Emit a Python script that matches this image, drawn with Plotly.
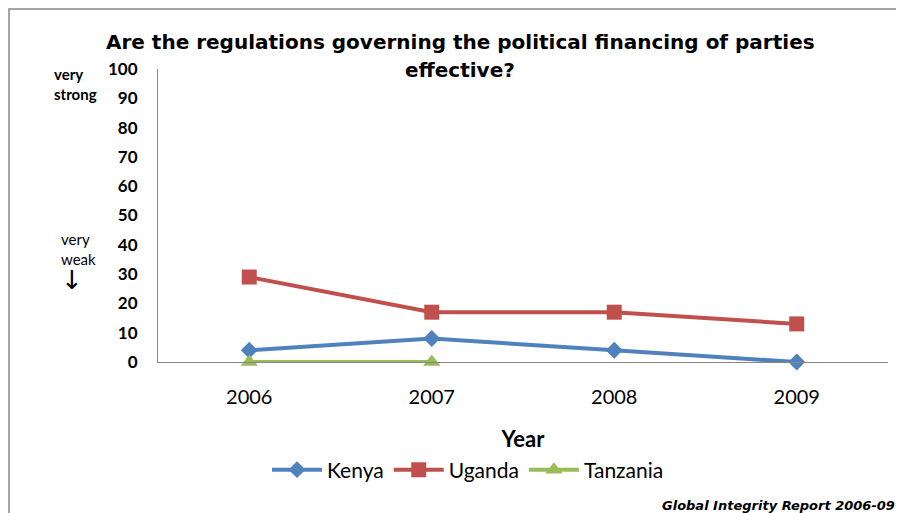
import plotly.graph_objects as go

years = ["2006", "2007", "2008", "2009"]
kenya = [4, 8, 4, 0]
uganda = [29, 17, 17, 13]
tanzania_years = ["2006", "2007"]
tanzania = [0, 0]
y_ticks = [0, 10, 20, 30, 40, 50, 60, 70, 80, 90, 100]

FONT = "Lato"
TFONT = "DejaVu Sans"
OFF = 8  # page body margin: figure is drawn 8px in from the window corner
W, H = 904, 513
# plot-area edges in window pixels
SL, SR, ST, SB = 158, 888, 69, 362
L, R, T, B = SL - OFF, SR - OFF, ST - OFF, SB - OFF
pw, ph = R - L, B - T

def px(x_screen):
    return (x_screen - OFF - L) / pw

def py(y_screen):
    return (B - (y_screen - OFF)) / ph

fig = go.Figure()
fig.add_trace(go.Scatter(x=years, y=kenya, name="Kenya", mode="lines+markers",
                         line=dict(color="#4F81BD", width=4),
                         marker=dict(symbol="diamond", size=13, color="#4F81BD"),
                         cliponaxis=False))
fig.add_trace(go.Scatter(x=years, y=uganda, name="Uganda", mode="lines+markers",
                         line=dict(color="#C0504D", width=4),
                         marker=dict(symbol="square", size=15, color="#C0504D"),
                         cliponaxis=False))
fig.add_trace(go.Scatter(x=tanzania_years, y=tanzania, name="Tanzania", mode="lines+markers",
                         line=dict(color="#9BBB59", width=4),
                         marker=dict(symbol="triangle-up", size=15, color="#9BBB59"),
                         cliponaxis=False))

fig.update_layout(
    width=W, height=H,
    margin=dict(l=L, r=W - R, t=T, b=H - B, pad=0, autoexpand=False),
    paper_bgcolor="white", plot_bgcolor="white",
    font=dict(family=FONT, color="black"),
    showlegend=True,
    legend=dict(orientation="h", x=px(468), xanchor="center", y=py(470), yanchor="middle",
                font=dict(size=21, family=FONT, color="black"),
                itemwidth=50, tracegroupgap=0, bgcolor="rgba(0,0,0,0)"),
    xaxis=dict(type="category", categoryorder="array", categoryarray=years,
               range=[-0.5, 3.5], showline=True, linecolor="#868686", linewidth=1,
               showgrid=False, zeroline=False, automargin=False,
               ticks="outside", ticklen=17, tickcolor="rgba(0,0,0,0)",
               tickfont=dict(size=20, family=FONT, color="black"),
               title=dict(text="<b>Year</b>", font=dict(size=22, family=FONT, color="black"), standoff=24)),
    yaxis=dict(range=[0, 100], tickvals=y_ticks, ticktext=[f"<b>{v}</b>" for v in y_ticks],
               showline=True, linecolor="#868686", linewidth=1,
               showgrid=False, zeroline=False, automargin=False,
               ticks="outside", ticklen=16, tickcolor="rgba(0,0,0,0)",
               tickfont=dict(size=17, family=FONT, color="black")),
)

# outer frame (chart-area border)
fig.add_shape(type="rect", xref="paper", yref="paper",
              x0=(1 - L) / pw, x1=(W + 20 - L) / pw, y0=(B - (H + 20)) / ph, y1=(B - 1) / ph,
              line=dict(color="#868686", width=1.5), fillcolor="rgba(0,0,0,0)", layer="below")

# title, two lines
fig.add_annotation(text="<b>Are the regulations governing the political financing of parties</b>",
                   xref="paper", yref="paper", x=px(460), y=py(42), xanchor="center", yanchor="middle",
                   showarrow=False, font=dict(size=20, family=TFONT, color="black"))
fig.add_annotation(text="<b>effective?</b>",
                   xref="paper", yref="paper", x=px(460), y=py(70), xanchor="center", yanchor="middle",
                   showarrow=False, font=dict(size=20, family=TFONT, color="black"))

fig.add_annotation(text="<b>very<br>strong</b>", xref="paper", yref="paper",
                   x=px(75), y=py(84), xanchor="center", yanchor="middle", showarrow=False, align="left",
                   font=dict(size=15, family=FONT, color="black"))
fig.add_annotation(text="very<br>weak", xref="paper", yref="paper",
                   x=px(78), y=py(249), xanchor="center", yanchor="middle", showarrow=False, align="left",
                   font=dict(size=15, family=FONT, color="black"))
fig.add_annotation(text="↓", xref="paper", yref="paper",
                   x=px(72), y=py(280), xanchor="center", yanchor="middle", showarrow=False,
                   font=dict(size=26, family="DejaVu Sans", color="black"))
fig.add_annotation(text="<i><b>Global Integrity Report 2006-09</b></i>", xref="paper", yref="paper",
                   x=px(897), y=py(505), xanchor="right", yanchor="middle", showarrow=False,
                   font=dict(size=13, family=TFONT, color="black"))

fig.write_html("out.html")
